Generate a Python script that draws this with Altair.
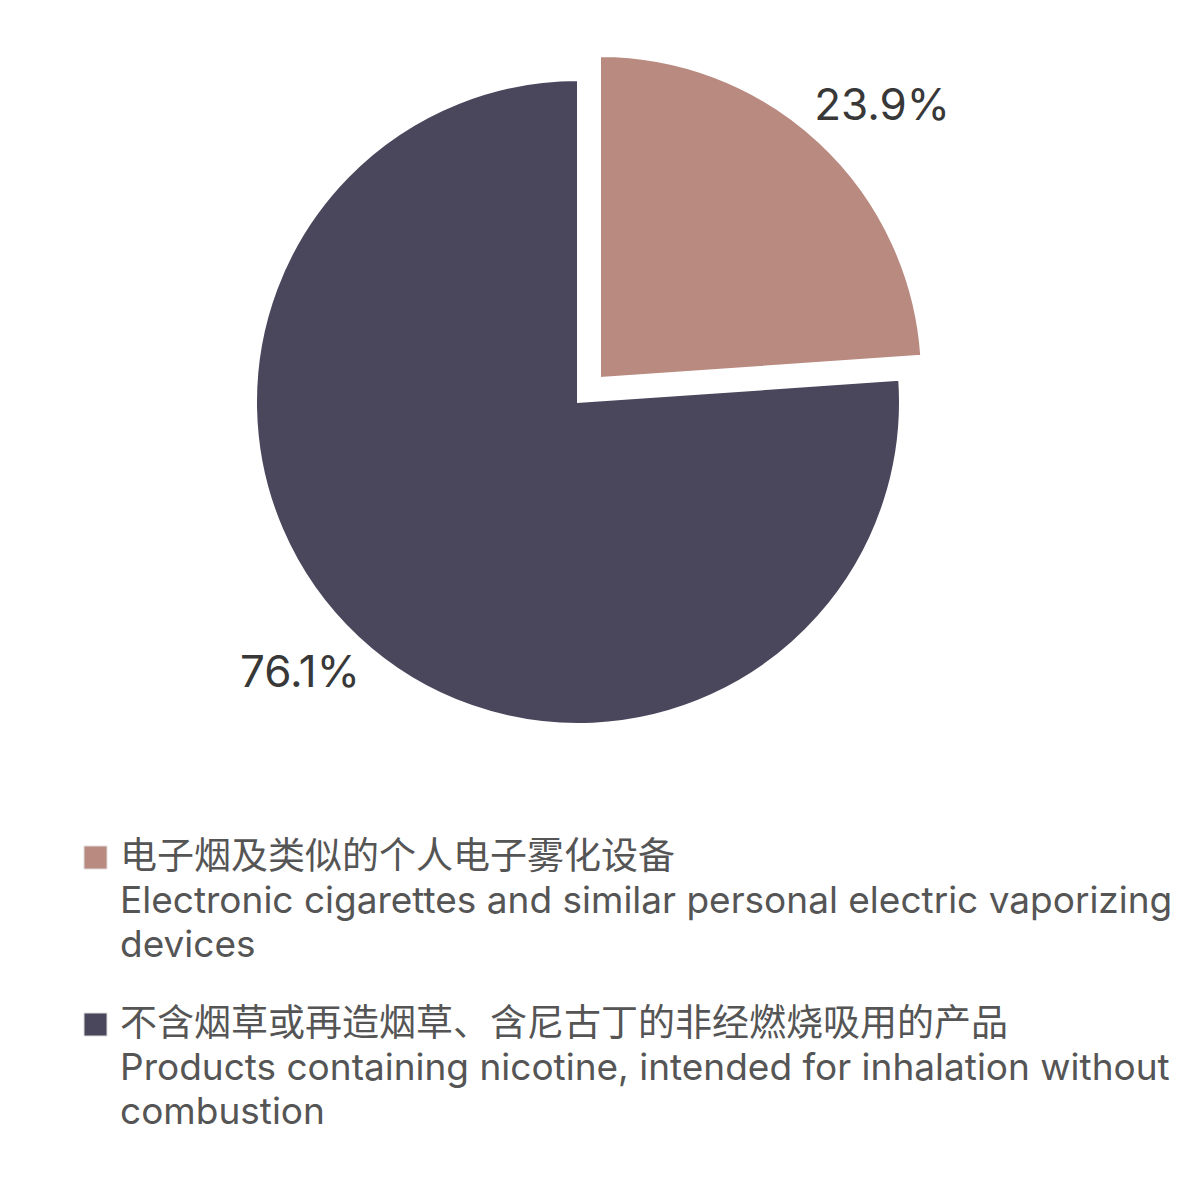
import math
import altair as alt
import pandas as pd

cn_names = ["电子烟及类似的个人电子雾化设备", "不含烟草或再造烟草、含尼古丁的非经燃烧吸用的产品"]
en_names = ["Electronic cigarettes and similar personal electric vaporizing\ndevices",
            "Products containing nicotine, intended for inhalation without\ncombustion"]
values = [23.9, 76.1]
pct_labels = ["23.9%", "76.1%"]
colors = ["#b98a80", "#4a475c"]

categories = [c + "\n" + e for c, e in zip(cn_names, en_names)]
df = pd.DataFrame({"category": categories, "value": values, "label": pct_labels, "idx": [0, 1]})
df["end"] = df["value"].cumsum()
df["start"] = df["end"] - df["value"]
df["mid"] = (df["start"] + df["end"]) / 2

FONT = "Inter, Noto Sans CJK SC"
theta_scale = alt.Scale(domain=[0, 100], range=[0, 2 * math.pi])
color = alt.Color(
    "category:N",
    scale=alt.Scale(domain=categories, range=colors),
    legend=alt.Legend(
        orient="none", legendX=69, legendY=831, title=None,
        symbolType="square", symbolSize=529, symbolStrokeColor="#dddddd",
        symbolStrokeWidth=1, symbolOpacity=1,
        labelFont=FONT, labelFontSize=37, labelColor="#555555",
        labelLimit=1200, labelOffset=6, labelBaseline="middle",
        rowPadding=41, labelExpr="split(datum.label, '\\n')",
    ),
)

base = alt.Chart(df)

def slice_layer(i, cx, cy, ldx, ldy):
    sub = base.transform_filter(f"datum.idx == {i}")
    arc = sub.mark_arc(radius=322, stroke="white", strokeWidth=2).encode(
        theta=alt.Theta("start:Q", scale=theta_scale),
        theta2="end:Q",
        color=color,
        x=alt.value(cx), y=alt.value(cy),
    )
    txt = sub.mark_text(radius=390, font=FONT, fontSize=44, color="#383838", dx=ldx, dy=ldy).encode(
        theta=alt.Theta("mid:Q", scale=theta_scale),
        text="label:N",
        x=alt.value(cx), y=alt.value(cy),
    )
    return arc + txt

chart = alt.layer(
    slice_layer(1, 570, 394, -12, -13),
    slice_layer(0, 592, 370, 16, 14),
).properties(
    width=1184, height=1173, padding=0,
    autosize=alt.AutoSizeParams(type="none"),
).configure(
    view={"stroke": None, "strokeWidth": 0},
    style={"guide-label": {"lineHeight": 44}},
)

chart.save("out.html", embed_options={"renderer": "svg", "actions": False})
